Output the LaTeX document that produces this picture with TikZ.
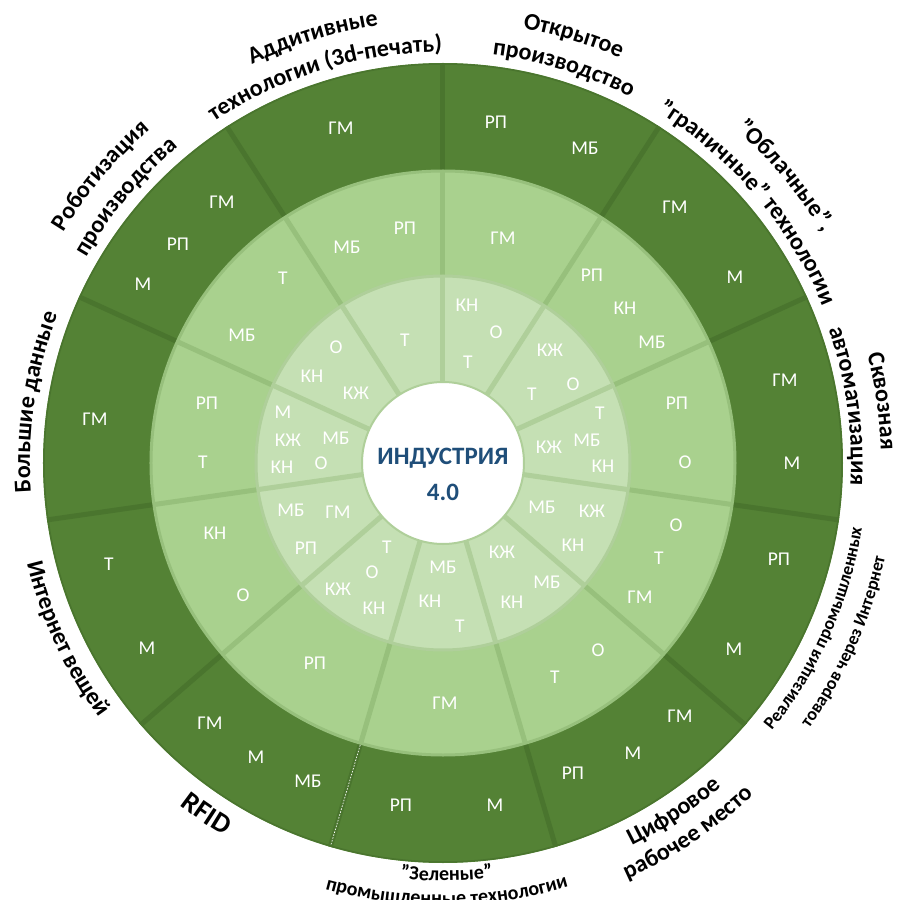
\documentclass[tikz,border=0pt]{standalone}
\usepackage{fontspec}
\setmainfont{Carlito}
\usetikzlibrary{decorations.text}

\definecolor{outerfill}{HTML}{548235}
\definecolor{outersep}{HTML}{4A752E}
\definecolor{midfill}{HTML}{A9D18E}
\definecolor{midsep}{HTML}{97C07C}
\definecolor{innerfill}{HTML}{C5E0B4}
\definecolor{innersep}{HTML}{AFCF9A}
\definecolor{titleblue}{HTML}{1F4E79}

\tikzset{
  cell/.style={text=white, inner sep=0pt, font=\fontsize{19.5}{19.5}\selectfont},
  title/.style={text=titleblue, inner sep=0pt, font=\bfseries\fontsize{25}{25}\selectfont},
  arclabel/.style={decorate, decoration={text along path, text align=center, text={#1}}}
}
\newcommand\lblfont{\bfseries\fontsize{24}{24}\selectfont}
\newcommand\smallfont{\bfseries\fontsize{18}{18}\selectfont}
\newcommand\greenfont{\bfseries\fontsize{20}{20}\selectfont}
\newcommand\bigfont{\bfseries\fontsize{28}{28}\selectfont}

\begin{document}
\begin{tikzpicture}[x=1pt, y=1pt]

\useasboundingbox (-443,-437) rectangle (455,463);

% rings
\fill[outerfill] (0,0) circle[radius=400];
\draw[outersep, line width=1.5pt] (0,0) circle[radius=399];
\fill[midfill] (0,0) circle[radius=292];
\fill[innerfill] (0,0) circle[radius=187];

% sector borders
\foreach \k in {0,...,10} {
  \pgfmathsetmacro\ang{90-\k*360/11}
  \draw[outersep, line width=5pt] (\ang:292) -- (\ang:400);
  \draw[midsep, line width=5pt] (\ang:187) -- (\ang:292);
  \draw[innersep, line width=5pt] (\ang:60) -- (\ang:187);
}
\draw[white, line width=0.7pt, dash pattern=on 1.5pt off 1.5pt] (-106.36:294) -- (-106.36:398);

\fill[white] (0,0) circle[radius=81];
\draw[midsep, line width=3pt] (0,0) circle[radius=292];
\draw[innersep, line width=3pt] (0,0) circle[radius=187];
\draw[innersep, line width=2pt] (0,0) circle[radius=81];

% centre
\node[title] (title) at (0,5) {ИНДУСТРИЯ};
\node[title] (version) at (0,-29) {4.0};

% inner ring
\node[cell] (i0a) at (24,158) {КН};
\node[cell] (i0b) at (53,131) {О};
\node[cell] (i0c) at (25,101) {Т};
\node[cell] (i1a) at (107,113) {КЖ};
\node[cell] (i1b) at (130,79) {О};
\node[cell] (i1c) at (89,69) {Т};
\node[cell] (i2a) at (157,50) {Т};
\node[cell] (i2b) at (144,23) {МБ};
\node[cell] (i2c) at (106,16) {КЖ};
\node[cell] (i2d) at (160,-3) {КН};
\node[cell] (i3a) at (99,-44) {МБ};
\node[cell] (i3b) at (149,-48) {КЖ};
\node[cell] (i3c) at (130,-82) {КН};
\node[cell] (i4a) at (59,-89) {КЖ};
\node[cell] (i4b) at (104,-119) {МБ};
\node[cell] (i4c) at (69,-139) {КН};
\node[cell] (i5a) at (0,-104) {МБ};
\node[cell] (i5b) at (-13,-138) {КН};
\node[cell] (i5c) at (17,-163) {Т};
\node[cell] (i6a) at (-56,-84) {Т};
\node[cell] (i6b) at (-71,-109) {О};
\node[cell] (i6c) at (-105,-126) {КЖ};
\node[cell] (i6d) at (-69,-145) {КН};
\node[cell] (i7a) at (-152,-47) {МБ};
\node[cell] (i7b) at (-105,-49) {ГМ};
\node[cell] (i7c) at (-137,-85) {РП};
\node[cell] (i8a) at (-160,51) {М};
\node[cell] (i8b) at (-155,23) {КЖ};
\node[cell] (i8c) at (-107,25) {МБ};
\node[cell] (i8d) at (-161,-4) {КН};
\node[cell] (i8e) at (-122,0) {О};
\node[cell] (i9a) at (-107,116) {О};
\node[cell] (i9b) at (-131,87) {КН};
\node[cell] (i9c) at (-87,70) {КЖ};
\node[cell] (i10a) at (-38,123) {Т};

% middle ring
\node[cell] (m10a) at (-96,216) {МБ};
\node[cell] (m10b) at (-38,235) {РП};
\node[cell] (m0a) at (60,225) {ГМ};
\node[cell] (m1a) at (149,188) {РП};
\node[cell] (m1b) at (182,155) {КН};
\node[cell] (m1c) at (209,121) {МБ};
\node[cell] (m2a) at (234,60) {РП};
\node[cell] (m2b) at (242,1) {О};
\node[cell] (m3a) at (233,-62) {О};
\node[cell] (m3b) at (216,-95) {Т};
\node[cell] (m3c) at (197,-134) {ГМ};
\node[cell] (m4a) at (155,-187) {О};
\node[cell] (m4b) at (112,-214) {Т};
\node[cell] (m5a) at (2,-240) {ГМ};
\node[cell] (m6a) at (-128,-200) {РП};
\node[cell] (m7a) at (-228,-70) {КН};
\node[cell] (m7b) at (-200,-132) {О};
\node[cell] (m8a) at (-236,60) {РП};
\node[cell] (m8b) at (-240,1) {Т};
\node[cell] (m9a) at (-160,185) {Т};
\node[cell] (m9b) at (-201,128) {МБ};

% outer ring
\node[cell] (o10a) at (-102,335) {ГМ};
\node[cell] (o0a) at (53,341) {РП};
\node[cell] (o0b) at (142,315) {МБ};
\node[cell] (o1a) at (232,256) {ГМ};
\node[cell] (o1b) at (292,186) {М};
\node[cell] (o2a) at (342,83) {ГМ};
\node[cell] (o2b) at (349,0) {М};
\node[cell] (o3a) at (336,-96) {РП};
\node[cell] (o3b) at (291,-186) {М};
\node[cell] (o4a) at (237,-253) {ГМ};
\node[cell] (o4b) at (190,-290) {М};
\node[cell] (o4c) at (130,-310) {РП};
\node[cell] (o5a) at (-42,-342) {РП};
\node[cell] (o5b) at (52,-342) {М};
\node[cell] (o6a) at (-233,-260) {ГМ};
\node[cell] (o6b) at (-187,-294) {М};
\node[cell] (o6c) at (-135,-318) {МБ};
\node[cell] (o7a) at (-334,-101) {Т};
\node[cell] (o7b) at (-296,-185) {М};
\node[cell] (o8a) at (-348,44) {ГМ};
\node[cell] (o9a) at (-221,261) {ГМ};
\node[cell] (o9b) at (-265,219) {РП};
\node[cell] (o9c) at (-300,179) {М};

% labels round the top, read clockwise
\path[arclabel={|\lblfont|Аддитивные}] (142:442) arc[start angle=142, end angle=72, radius=442];
\path[arclabel={|\lblfont|технологии (3d-печать)}] (152:411) arc[start angle=152, end angle=62, radius=411];
\path[arclabel={|\lblfont|Открытое}] (108:442) arc[start angle=108, end angle=38, radius=442];
\path[arclabel={|\lblfont|производство}] (108:411) arc[start angle=108, end angle=38, radius=411];
\path[arclabel={|\lblfont|"Облачные",}] (75:444) arc[start angle=75, end angle=5, radius=444];
\path[arclabel={|\lblfont|"граничные" технологии}] (85.5:411) arc[start angle=85.5, end angle=-4.5, radius=411];
\path[arclabel={|\lblfont|Сквозная}] (43:438) arc[start angle=43, end angle=-27, radius=438];
\path[arclabel={|\lblfont|автоматизация}] (43:408) arc[start angle=43, end angle=-27, radius=408];
\path[arclabel={|\lblfont|Большие данные}] (211.5:413) arc[start angle=211.5, end angle=131.5, radius=413];
\path[arclabel={|\lblfont|Роботизация}] (175:444) arc[start angle=175, end angle=105, radius=444];
\path[arclabel={|\lblfont|производства}] (175:412) arc[start angle=175, end angle=105, radius=412];

% labels round the bottom, read anticlockwise
\path[arclabel={|\smallfont|Реализация промышленных}] (-64:424) arc[start angle=-64, end angle=16, radius=424];
\path[arclabel={|\smallfont|товаров через Интернет}] (-64:452) arc[start angle=-64, end angle=16, radius=452];
\path[arclabel={|\lblfont|Цифровое}] (-91.5:427) arc[start angle=-91.5, end angle=-21.5, radius=427];
\path[arclabel={|\lblfont|рабочее место}] (-91.5:455) arc[start angle=-91.5, end angle=-21.5, radius=455];
\path[arclabel={|\greenfont|"Зеленые"}] (-124.5:418) arc[start angle=-124.5, end angle=-54.5, radius=418];
\path[arclabel={|\greenfont|промышленные технологии}] (-129.5:442) arc[start angle=-129.5, end angle=-49.5, radius=442];
\path[arclabel={|\bigfont|RFID}] (-154:432) arc[start angle=-154, end angle=-94, radius=432];
\path[arclabel={|\lblfont|Интернет вещей}] (-190:428) arc[start angle=-190, end angle=-120, radius=428];

\end{tikzpicture}
\end{document}
